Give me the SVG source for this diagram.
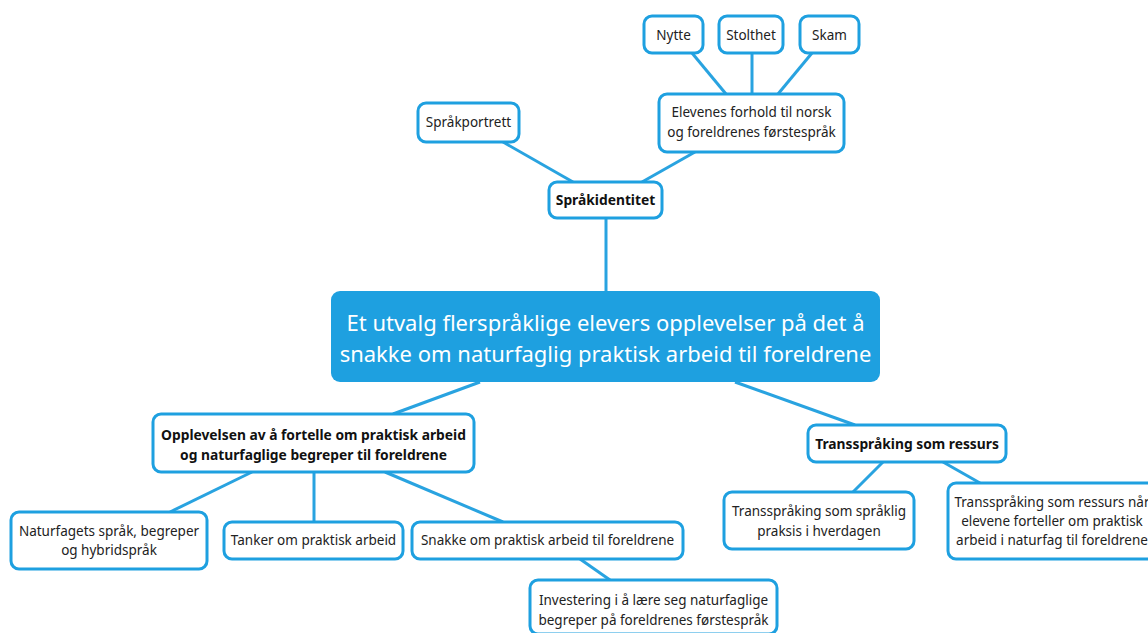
<svg xmlns="http://www.w3.org/2000/svg" width="1148" height="633" viewBox="0 0 1148 633">
<style>
.n{fill:#fff;stroke:#1ea0e0;stroke-width:3}
.c{stroke:#29a3e0;stroke-width:3;fill:none}
text{font-family:"Noto Sans","Open Sans",sans-serif;font-size:13.5px;fill:#222;text-anchor:middle}
.b{font-weight:bold;font-size:13.8px;fill:#111}
.w{fill:#fff;font-size:22px}
</style>
<rect width="1148" height="633" fill="#fff"/>
<g id="connectors">
<line class="c" x1="606" y1="291" x2="606" y2="218"/>
<line class="c" x1="503" y1="142" x2="573" y2="182"/>
<line class="c" x1="695" y1="152" x2="642" y2="182"/>
<line class="c" x1="692" y1="53" x2="726" y2="94"/>
<line class="c" x1="752" y1="53" x2="752" y2="94"/>
<line class="c" x1="812" y1="53" x2="778" y2="94"/>
<line class="c" x1="480" y1="382" x2="393" y2="414"/>
<line class="c" x1="735" y1="382" x2="855" y2="425"/>
<line class="c" x1="252" y1="472" x2="170" y2="512"/>
<line class="c" x1="314" y1="472" x2="314" y2="522"/>
<line class="c" x1="385" y1="472" x2="503" y2="522"/>
<line class="c" x1="580" y1="559" x2="610" y2="580"/>
<line class="c" x1="883" y1="462" x2="853" y2="492"/>
<line class="c" x1="943" y1="462" x2="980" y2="483"/>
</g>
<g id="central">
<rect x="331" y="291" width="549" height="91" rx="9" fill="#1ea0e0"/>
<text class="w" x="605.5" y="331">Et utvalg flerspråklige elevers opplevelser på det å</text>
<text class="w" x="605.5" y="362">snakke om naturfaglig praktisk arbeid til foreldrene</text>
</g>
<g id="spraakidentitet">
<rect class="n" x="549" y="182" width="113" height="36" rx="8"/>
<text class="b" x="605.5" y="205">Språkidentitet</text>
</g>
<g id="spraakportrett">
<rect class="n" x="418" y="103" width="101" height="39" rx="8"/>
<text x="468.5" y="127">Språkportrett</text>
</g>
<g id="elevenes">
<rect class="n" x="659" y="94" width="185" height="58" rx="8"/>
<text x="751.5" y="117">Elevenes forhold til norsk</text>
<text x="751.5" y="137">og foreldrenes førstespråk</text>
</g>
<g id="nytte">
<rect class="n" x="644" y="16" width="59" height="37" rx="8"/>
<text x="673.5" y="40">Nytte</text>
</g>
<g id="stolthet">
<rect class="n" x="719" y="16" width="64" height="37" rx="8"/>
<text x="751" y="40">Stolthet</text>
</g>
<g id="skam">
<rect class="n" x="800" y="16" width="59" height="37" rx="8"/>
<text x="829.5" y="40">Skam</text>
</g>
<g id="opplevelsen">
<rect class="n" x="153" y="414" width="321" height="58" rx="8"/>
<text class="b" x="313.5" y="440">Opplevelsen av å fortelle om praktisk arbeid</text>
<text class="b" x="313.5" y="460">og naturfaglige begreper til foreldrene</text>
</g>
<g id="naturfagets">
<rect class="n" x="11" y="512" width="196" height="57" rx="8"/>
<text x="109" y="536">Naturfagets språk, begreper</text>
<text x="109" y="555">og hybridspråk</text>
</g>
<g id="tanker">
<rect class="n" x="224" y="522" width="179" height="37" rx="8"/>
<text x="313.5" y="545">Tanker om praktisk arbeid</text>
</g>
<g id="snakke">
<rect class="n" x="412" y="522" width="271" height="37" rx="8"/>
<text x="547.5" y="545">Snakke om praktisk arbeid til foreldrene</text>
</g>
<g id="investering">
<rect class="n" x="530" y="580" width="247" height="54" rx="8"/>
<text x="653.5" y="605">Investering i å lære seg naturfaglige</text>
<text x="653.5" y="625">begreper på foreldrenes førstespråk</text>
</g>
<g id="transressurs">
<rect class="n" x="808" y="425" width="198" height="37" rx="8"/>
<text class="b" x="907" y="449">Transspråking som ressurs</text>
</g>
<g id="transspraaklig">
<rect class="n" x="724" y="492" width="190" height="57" rx="8"/>
<text x="819" y="516">Transspråking som språklig</text>
<text x="819" y="536">praksis i hverdagen</text>
</g>
<g id="transnaar">
<rect class="n" x="948" y="483" width="220" height="76" rx="8"/>
<text x="1052" y="507">Transspråking som ressurs når</text>
<text x="1052" y="526">elevene forteller om praktisk</text>
<text x="1052" y="545">arbeid i naturfag til foreldrene</text>
</g>
</svg>
